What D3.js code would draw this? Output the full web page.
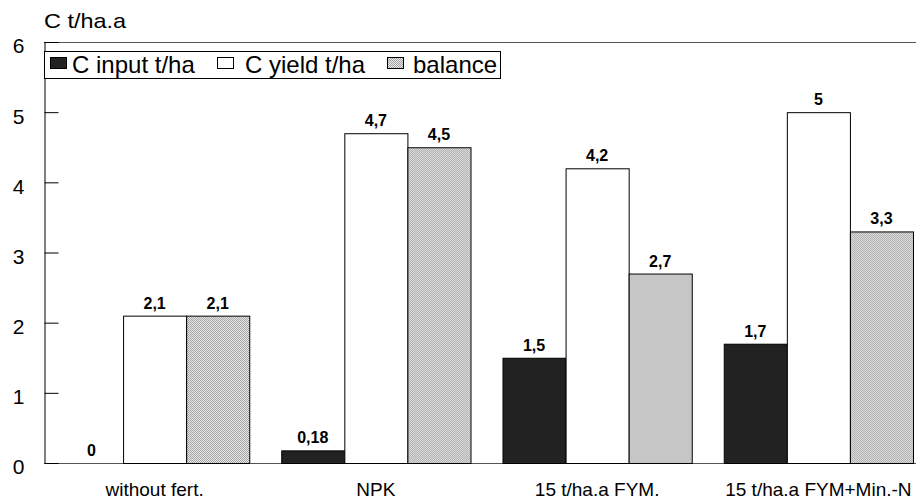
<!DOCTYPE html>
<html>
<head>
<meta charset="utf-8">
<script src="https://cdn.jsdelivr.net/npm/d3@7"></script>
<style>
  html, body { margin: 0; padding: 0; background: #fff; }
  svg { display: block; font-family: Arial, "Liberation Sans", sans-serif; }
</style>
</head>
<body>
<svg id="chart" width="916" height="501"></svg>
<script>
const categories = ["without fert.", "NPK", "15 t/ha.a FYM.", "15 t/ha.a FYM+Min.-N"];
const seriesNames = ["C input t/ha", "C yield t/ha", "balance"];
const cInput = [0, 0.18, 1.5, 1.7];
const cYield = [2.1, 4.7, 4.2, 5];
const balance = [2.1, 4.5, 2.7, 3.3];
const valueLabels = [
  ["0", "0,18", "1,5", "1,7"],
  ["2,1", "4,7", "4,2", "5"],
  ["2,1", "4,5", "2,7", "3,3"]
];
const yTicks = [0, 1, 2, 3, 4, 5, 6];
const yTitle = "C t/ha.a";

const seriesValues = [cInput, cYield, balance];

(function () {
const FONT = "Arial, 'Liberation Sans', sans-serif";
const svg = d3.select("#chart");
const defs = svg.append("defs");
const pat = defs.append("pattern").attr("id", "dots").attr("patternUnits", "userSpaceOnUse")
  .attr("width", 2).attr("height", 2);
pat.append("rect").attr("width", 2).attr("height", 2).attr("fill", "#e8e8e8");
pat.append("rect").attr("x", 0).attr("y", 0).attr("width", 1).attr("height", 1).attr("fill", "#a4a4a4");
pat.append("rect").attr("x", 1).attr("y", 1).attr("width", 1).attr("height", 1).attr("fill", "#a4a4a4");

const fills = ["#222222", "#ffffff", "url(#dots)"];

const mLeft = 44, mTop = 42, mBottom = 463, rightExt = 929;

const x0 = d3.scaleBand().domain(categories).range([mLeft, rightExt]).paddingInner(0.1446).paddingOuter(0.0723);
const x1 = d3.scaleBand().domain(d3.range(seriesNames.length)).range([0, x0.bandwidth()]).padding(0);
const y = d3.scaleLinear().domain([0, 6]).range([mBottom, mTop]);

// frame top line
svg.append("line").attr("x1", mLeft).attr("x2", 916).attr("y1", y(6) + 0.5).attr("y2", y(6) + 0.5)
  .attr("stroke", "#555").attr("stroke-width", 1);

// x axis
const xAxis = d3.axisBottom(x0).tickSize(0).tickPadding(20);
const xa = svg.append("g").attr("transform", `translate(0,${mBottom})`).call(xAxis);
xa.select(".domain").attr("d", `M${mLeft},0.5H916`).attr("stroke", "#555");
xa.selectAll(".tick text").attr("font-size", 19).attr("font-family", FONT).attr("fill", "#000");

// bars
categories.forEach((c, ci) => {
  const g = svg.append("g").attr("transform", `translate(${x0(c)},0)`);
  seriesValues.forEach((vals, si) => {
    const v = vals[ci];
    g.append("rect")
      .attr("x", x1(si) + 0.5)
      .attr("y", y(v) + 0.5)
      .attr("width", x1.bandwidth())
      .attr("height", Math.max(0, y(0) - y(v)))
      .attr("fill", fills[si])
      .attr("stroke", "#000")
      .attr("stroke-width", v === 0 ? 2 : 1);
    g.append("text")
      .attr("x", x1(si) + x1.bandwidth() / 2)
      .attr("y", y(v) - 7)
      .attr("text-anchor", "middle")
      .attr("font-size", 16)
      .attr("font-weight", "bold")
      .attr("fill", "#000")
      .text(valueLabels[si][ci]);
  });
});

// y axis
const yAxis = d3.axisLeft(y).tickValues(yTicks).tickSize(-14).tickPadding(20).tickFormat(d3.format("d"));
const ya = svg.append("g").attr("transform", `translate(${mLeft + 0.5},0)`).call(yAxis);
ya.select(".domain").attr("stroke", "#000");
ya.selectAll(".tick line").attr("stroke", "#000");
ya.selectAll(".tick text").attr("font-size", 21).attr("font-family", FONT)
  .attr("fill", "#000").attr("text-anchor", "middle").attr("x", -26).attr("dy", "0.52em");

// y title
svg.append("text").attr("x", 44).attr("y", 28).attr("font-size", 21)
  .attr("textLength", 82).attr("lengthAdjust", "spacingAndGlyphs")
  .attr("fill", "#000").text(yTitle);

// legend
const lg = svg.append("g");
lg.append("rect").attr("x", mLeft + 0.5).attr("y", 51.5).attr("width", 456).attr("height", 27)
  .attr("fill", "#fff").attr("stroke", "#000");
const legendX = [50, 217, 387];
const legendTextX = [72, 245, 413];
seriesNames.forEach((n, i) => {
  lg.append("rect").attr("x", legendX[i] + 0.5).attr("y", 57.5).attr("width", 16).attr("height", 11)
    .attr("fill", fills[i]).attr("stroke", "#000");
  lg.append("text").attr("x", legendTextX[i]).attr("y", 73).attr("font-size", 24)
    .attr("fill", "#000").text(n);
});
})();
</script>
</body>
</html>
